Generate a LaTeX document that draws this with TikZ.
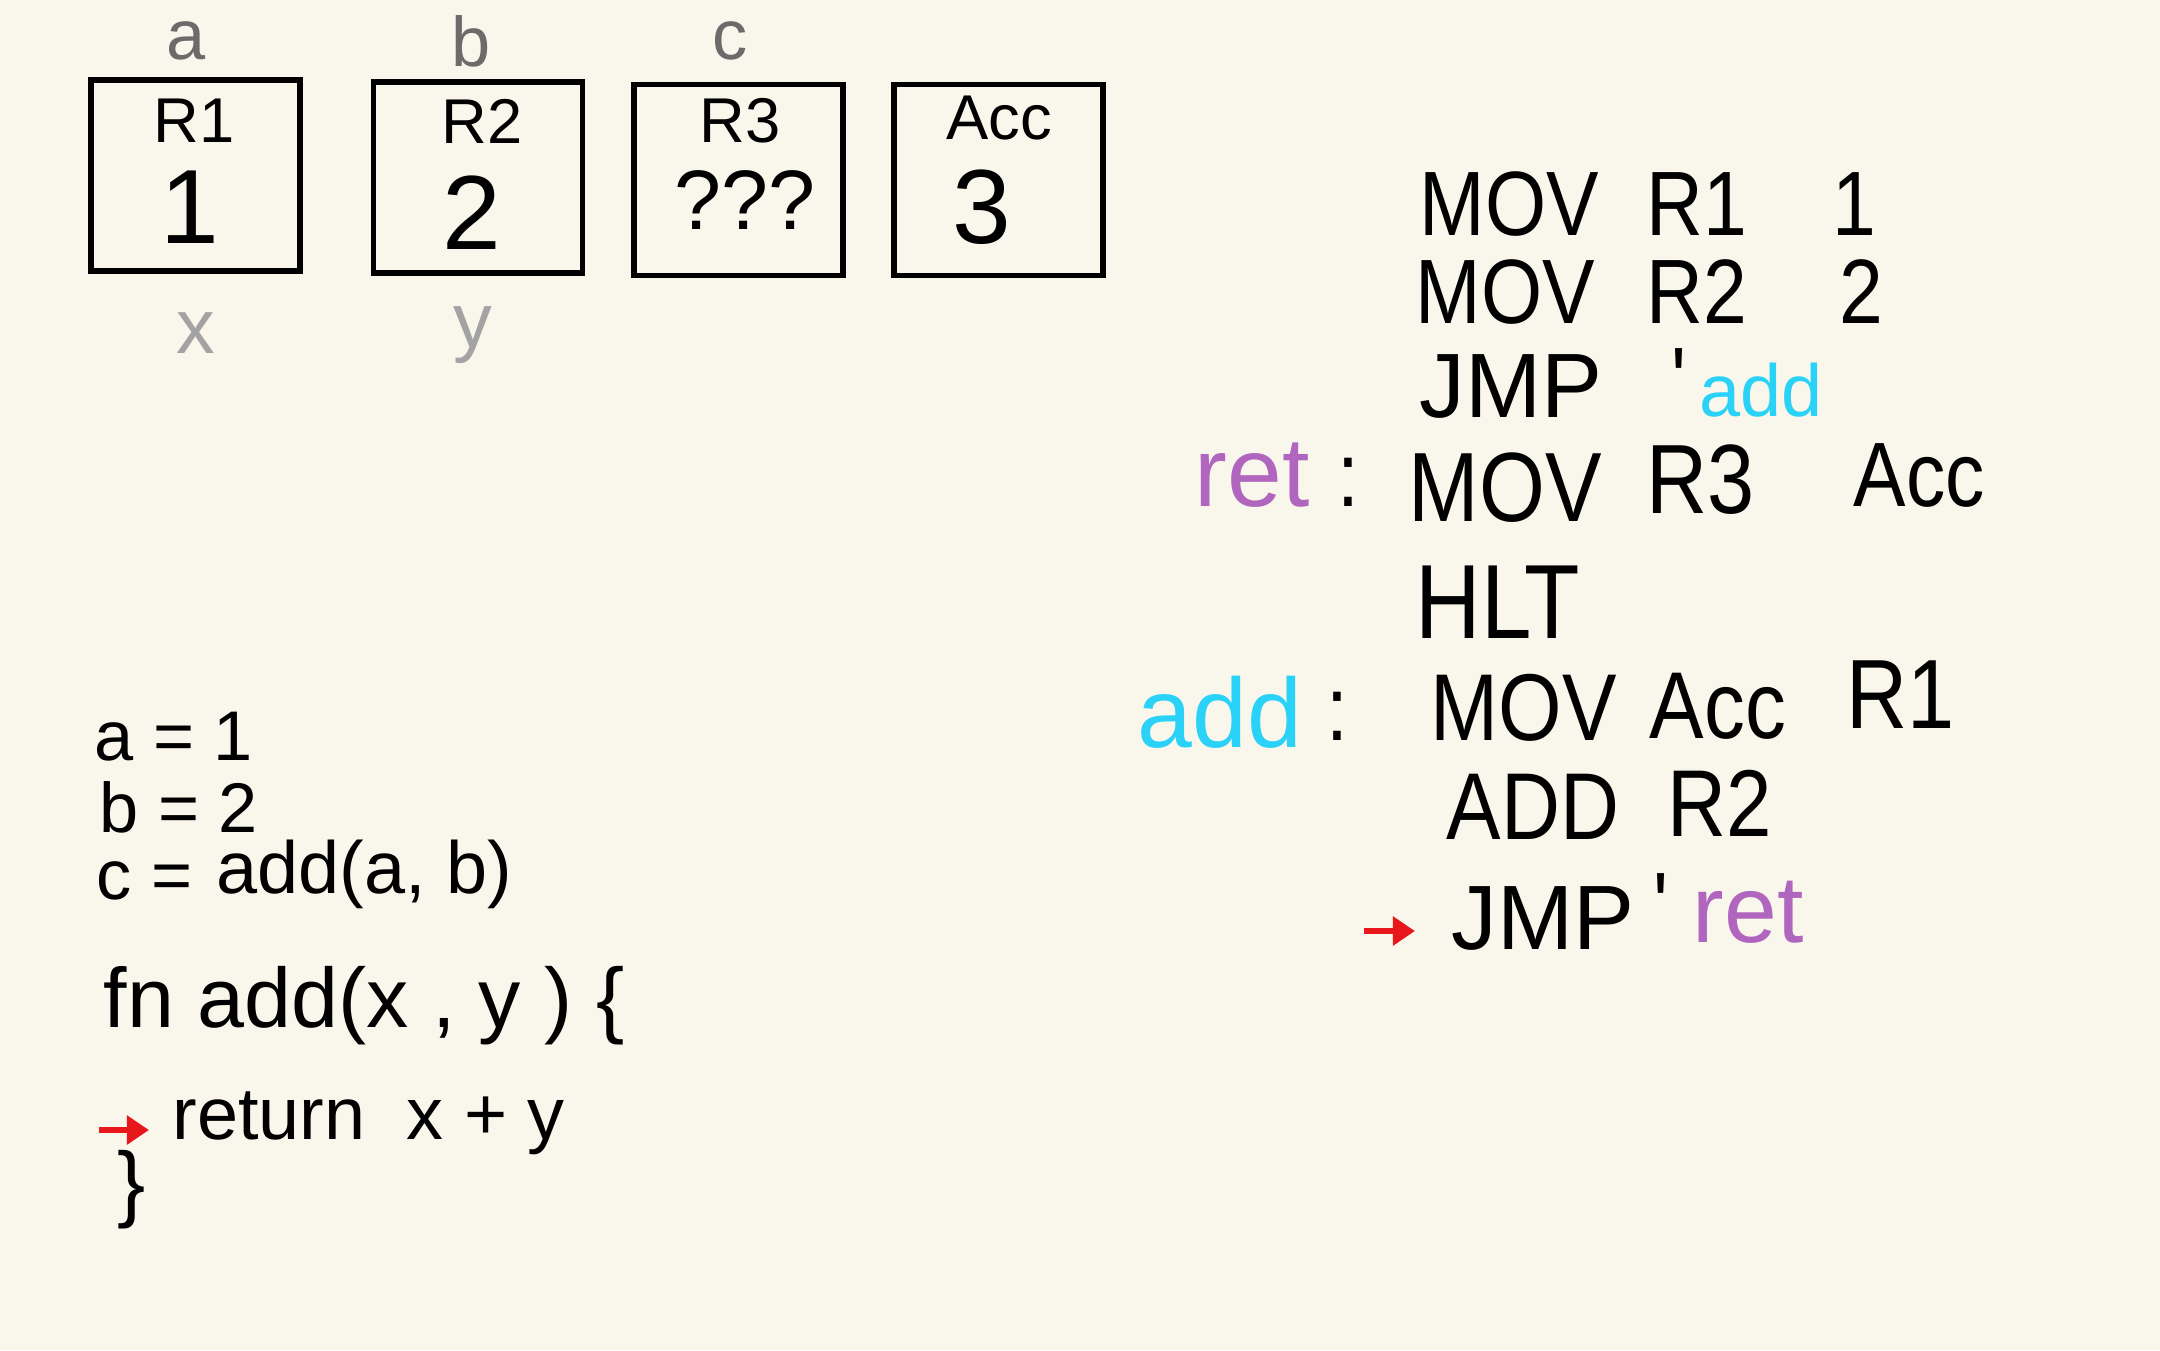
\documentclass[tikz,border=0pt]{standalone}
\usepackage{fontspec}
\setmainfont{Liberation Sans}
\newfontfamily\asmfont{Liberation Sans}[FakeStretch=0.86]
\usetikzlibrary{arrows.meta}

\definecolor{paper}{HTML}{F9F7EC}
\definecolor{vargray}{HTML}{6B6B6B}
\definecolor{argray}{HTML}{A3A3A3}
\definecolor{lblcyan}{HTML}{2BD2F7}
\definecolor{lblpurple}{HTML}{B066BE}
\definecolor{ptrred}{HTML}{E8171B}

\newcommand\asmsize[1]{\asmfont\fontsize{#1}{#1}\selectfont}
\newcommand\txtsize[1]{\normalfont\fontsize{#1}{#1}\selectfont}

\begin{document}
\begin{tikzpicture}[
    x=0.01cm, y=-0.01cm,
    every node/.style={inner sep=0pt},
    regbox/.style={draw=black, line width=1.6pt, minimum width=2.09cm, minimum height=1.91cm},
    regname/.style={font=\txtsize{18}},
    regval/.style={font=\txtsize{30}},
    varname/.style={text=vargray, font=\txtsize{20}},
    argname/.style={text=argray, font=\txtsize{22}},
    asm/.style={anchor=west, font=\asmsize{26}},
    capbox/.style={text height=19pt, text depth=0pt},
    code/.style={anchor=west, font=\txtsize{20}},
    pointer/.style={-{Triangle[length=2.2mm,width=2.8mm]}, line width=1.8pt, draw=ptrred}
]
\fill[paper] (0,0) rectangle (2160,1350);
\useasboundingbox (0,0) rectangle (2160,1350);

% registers
\node[regbox] (r1) at (195.5,175.5) {};
\node[regbox] (r2) at (478,177.5) {};
\node[regbox] (r3) at (738.5,180) {};
\node[regbox] (acc) at (998.5,180) {};

\node[regname] (r1n) at (194,121) {R1};
\node[regval] (r1v) at (190,207) {1};
\node[regname] (r2n) at (482,121) {R2};
\node[regval] (r2v) at (472,213) {2};
\node[regname] (r3n) at (740,121) {R3};
\node[regval, font=\txtsize{24}] (r3v) at (745,200) {???};
\node[regname] (accn) at (999,118) {Acc};
\node[regval] (accv) at (982,207) {3};

% variable names
\node[varname] (va) at (186,41) {a};
\node[varname] (vb) at (471,41) {b};
\node[varname] (vc) at (730,41) {c};
\node[argname] (vx) at (196,333) {x};
\node[argname] (vy) at (473,335) {y};

% source
\node[code] (la) at (94,737) {a = 1};
\node[code] (lb) at (99,807) {b = 2};
\node[code] (lc) at (96,881) {c =};
\node[code, font=\txtsize{21}] (lcall) at (216,874) {add(a, b)};
\node[code, font=\txtsize{24}] (lfn) at (103,1006) {fn add(x , y ) \{};
\node[code, font=\txtsize{21}] (lret) at (172,1123) {return\ \ x + y};
\node[code, font=\txtsize{24}] (lend) at (117,1190) {\}};
\coordinate (p1) at (99,1130);
\draw[pointer, shorten >=0.23cm] (p1) -- (p1 -| lret.west);

% assembly
\node[asm] (m1) at (1419,204) {MOV};
\node[asm] (m1a) at (1646,204) {R1};
\node[asm] (m1b) at (1832,204) {1};

\node[asm] (m2) at (1415,292) {MOV};
\node[asm] (m2a) at (1646,292) {R2};
\node[asm] (m2b) at (1839,292) {2};

\node[asm, font=\txtsize{26}] (m3) at (1419,386) {JMP};
\node[asm] (m3q) at (1671,380) {\textquotesingle};
\node[asm, text=lblcyan, font=\txtsize{21}] (m3a) at (1699,390) {add};

\node[asm, text=lblpurple, font=\txtsize{28}] (lret) at (1194,475) {ret};
\node[asm] (c4) at (1337,482) {:};
\node[asm, font=\asmsize{28}] (m4) at (1408,488) {MOV};
\node[asm, font=\asmsize{28}] (m4a) at (1646,480) {R3};
\node[asm] (m4b) at (1853,475) {Acc};

\node[asm, font=\asmsize{30}] (m5) at (1415,602) {HLT};

\node[asm, text=lblcyan, font=\txtsize{28}] (ladd) at (1137,712) {add};
\node[asm] (c6) at (1326,716) {:};
\node[asm, capbox, font=\asmsize{27}] (m6) at (1430,707) {MOV};
\node[asm, capbox, font=\asmsize{27}] (m6a) at (1649,705) {Acc};
\node[asm, capbox, font=\asmsize{28}] (m6b) at (1846,695) {R1};

\node[asm, capbox, font=\asmsize{27}] (m7) at (1446,806) {ADD};
\node[asm, capbox, font=\asmsize{27}] (m7a) at (1667,803) {R2};

\node[asm, font=\txtsize{26}] (m8) at (1451,918) {JMP};
\node[asm] (m8q) at (1653,905) {\textquotesingle};
\node[asm, text=lblpurple, font=\txtsize{27}] (m8a) at (1692,912) {ret};
\coordinate (p2) at (1364,931);
\draw[pointer, shorten >=0.36cm] (p2) -- (p2 -| m8.west);
\end{tikzpicture}
\end{document}
